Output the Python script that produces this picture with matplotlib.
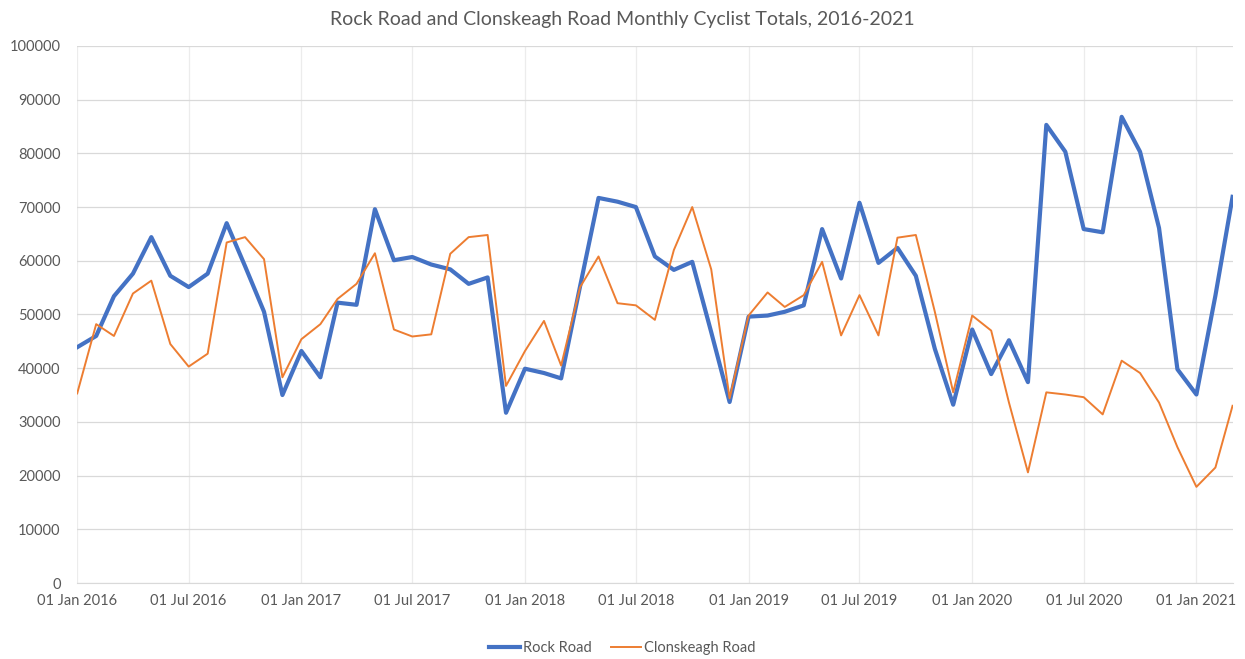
import matplotlib
matplotlib.use("Agg")
import matplotlib.pyplot as plt
import matplotlib.dates as mdates
import pandas as pd

plt.rcParams["font.family"] = ["Lato", "DejaVu Sans"]

months = pd.date_range("2016-01-01", "2021-03-01", freq="MS")

rock_road = [
    43900, 46000, 53400, 57600, 64400, 57200, 55100, 57600, 67000, 59000,
    50500, 35000, 43200, 38300, 52200, 51800, 69600, 60100, 60700, 59300,
    58400, 55700, 56900, 31700, 39900, 39100, 38100, 55300, 71700, 71000,
    70000, 60800, 58300, 59800, 46700, 33700, 49600, 49800, 50500, 51700,
    65900, 56700, 70800, 59600, 62400, 57200, 43600, 33200, 47200, 38900,
    45200, 37400, 85300, 80300, 65900, 65300, 86800, 80300, 66100, 39800,
    35100, 53500, 71900,
]

clonskeagh_road = [
    35300, 48200, 46000, 53900, 56300, 44500, 40300, 42700, 63400, 64400,
    60300, 38300, 45400, 48200, 52900, 55700, 61400, 47200, 45900, 46300,
    61300, 64400, 64800, 36700, 43200, 48800, 40500, 55100, 60800, 52100,
    51700, 49000, 62000, 70000, 58400, 34400, 49800, 54100, 51400, 53600,
    59800, 46100, 53600, 46100, 64300, 64800, 50500, 35500, 49800, 47000,
    33600, 20600, 35500, 35100, 34600, 31400, 41400, 39100, 33600, 25300,
    17900, 21500, 33000,
]

title = "Rock Road and Clonskeagh Road Monthly Cyclist Totals, 2016-2021"
text_color = "#595959"
grid_color = "#d9d9d9"

fig = plt.figure(figsize=(12.45, 6.59), dpi=100)
ax = fig.add_axes([0.062, 0.1153, 0.928, 0.815])

ax.plot(months, rock_road, color="#4472C4", lw=3.0, label="Rock Road",
        solid_joinstyle="round", zorder=3)
ax.plot(months, clonskeagh_road, color="#ED7D31", lw=1.4, label="Clonskeagh Road",
        solid_joinstyle="round", zorder=3)

ax.set_xlim(months[0], months[-1])
ax.set_ylim(0, 100000)
ax.set_yticks(range(0, 100001, 10000))
ax.xaxis.set_major_locator(mdates.MonthLocator(bymonth=[1, 7]))
ax.xaxis.set_major_formatter(mdates.DateFormatter("%d %b %Y"))

ax.grid(axis="y", color=grid_color, lw=0.9)
ax.grid(axis="x", color="#ececec", lw=0.9)
ax.set_axisbelow(True)
for side in ("top", "right", "left"):
    ax.spines[side].set_visible(False)
ax.spines["bottom"].set_color(grid_color)
ax.tick_params(length=0, colors=text_color, labelsize=10.5)
ax.tick_params(axis="x", pad=8)
ax.tick_params(axis="y", pad=12)

fig.text(0.5, 0.971, title, ha="center", va="center", fontsize=14, color=text_color)

fig.legend(loc="center", bbox_to_anchor=(0.5, 0.016), ncol=2, frameon=False,
           fontsize=10.5, labelcolor=text_color, handlelength=2.1,
           handletextpad=0.2, columnspacing=1.3)

fig.savefig("out.png", dpi=100, facecolor="white")
